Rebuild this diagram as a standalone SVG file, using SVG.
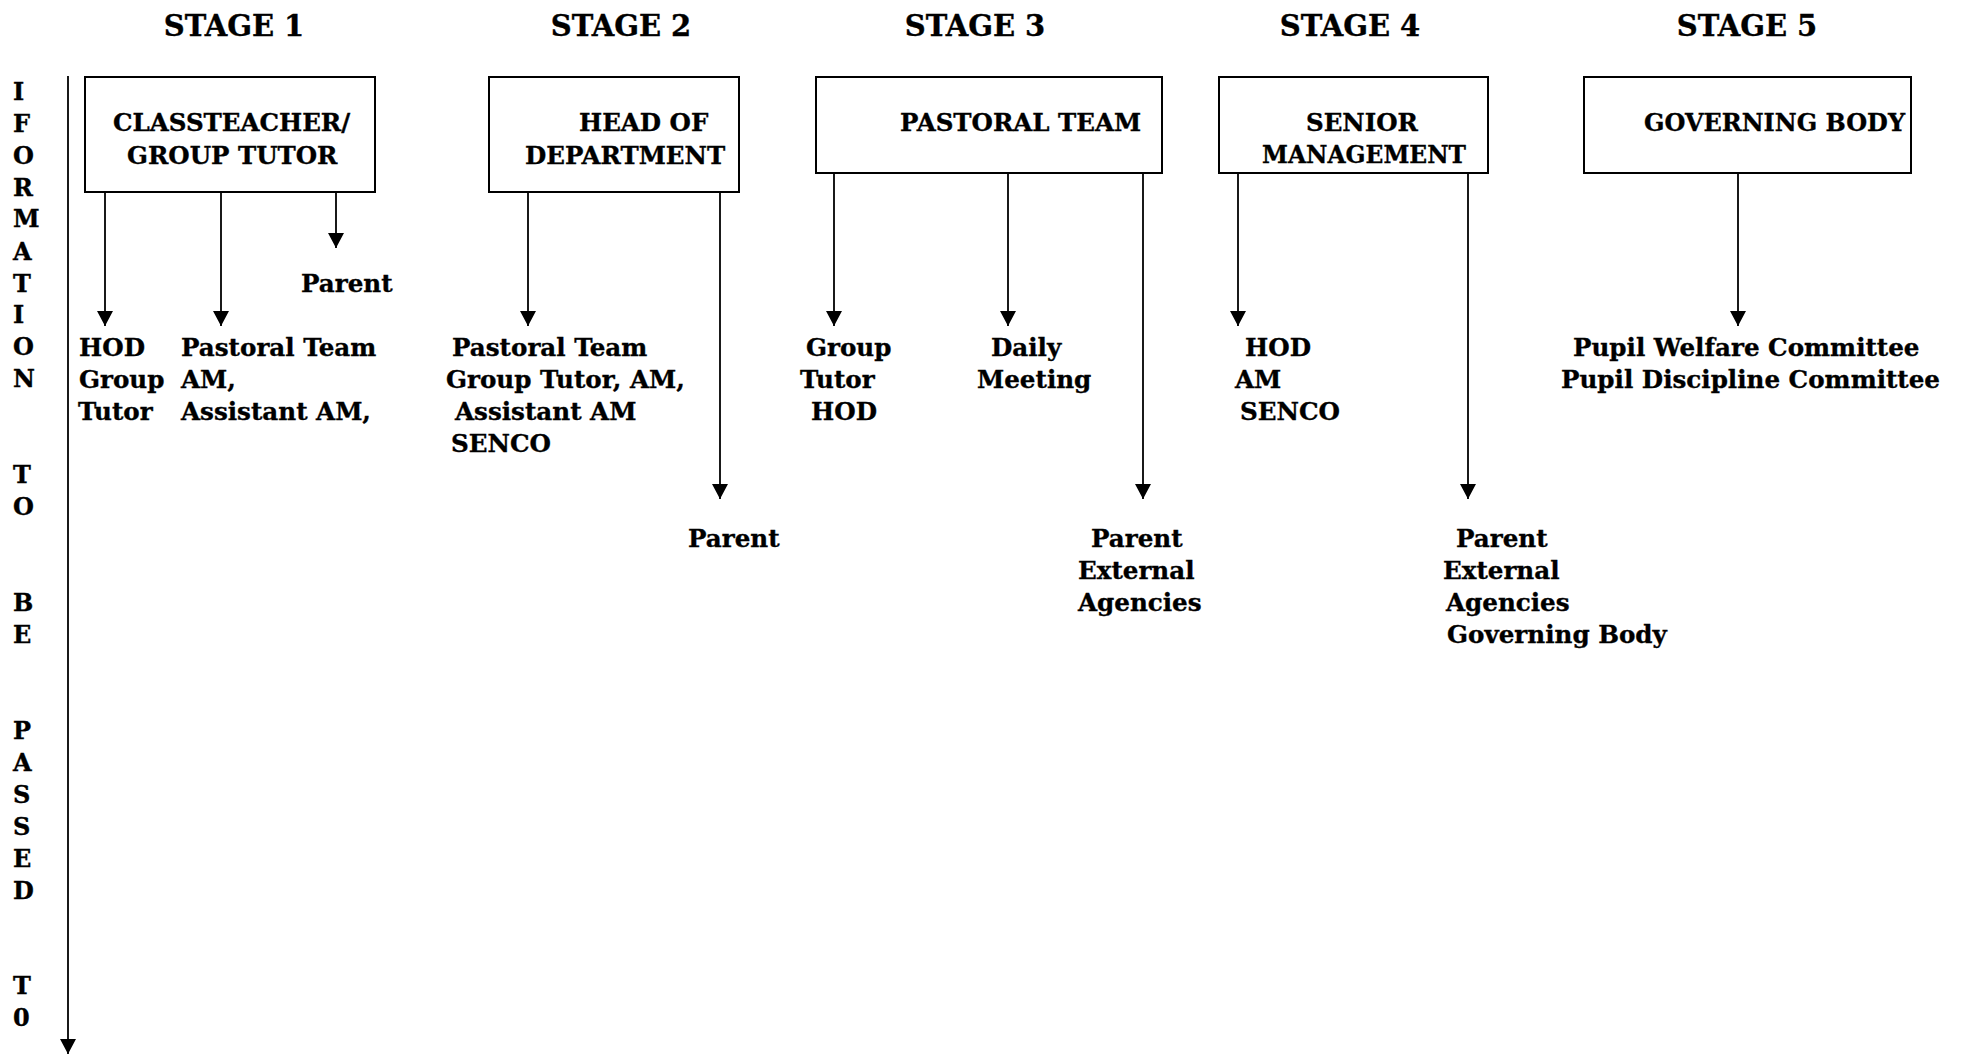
<svg xmlns="http://www.w3.org/2000/svg" width="1965" height="1055" viewBox="0 0 1965 1055">
<style>
text{font-family:"DejaVu Serif","Liberation Serif",serif;font-weight:bold;fill:#000;stroke:#000;stroke-width:0.35}
.title{font-size:29px;text-anchor:middle}
.box{font-size:24.5px}
.lbl{font-size:24.6px}
.side{font-size:24px}
rect{fill:#fff;stroke:#000;stroke-width:2}
line{stroke:#000;stroke-width:1.8}
</style>
<defs>
<marker id="arr" markerUnits="userSpaceOnUse" markerWidth="15" markerHeight="16" refX="15" refY="8" orient="auto" viewBox="0 0 15 16">
<path d="M0,0 L15,8 L0,16 Z" fill="#000"/>
</marker>
</defs>
<g id="titles">
<text class="title" x="234" y="36">STAGE 1</text>
<text class="title" x="621" y="36">STAGE 2</text>
<text class="title" x="975" y="36">STAGE 3</text>
<text class="title" x="1350" y="36">STAGE 4</text>
<text class="title" x="1747" y="36">STAGE 5</text>
</g>
<g id="side-label">
<text class="side" x="13" y="100">I</text>
<text class="side" x="13" y="132">F</text>
<text class="side" x="13" y="164">O</text>
<text class="side" x="13" y="196">R</text>
<text class="side" x="13" y="227">M</text>
<text class="side" x="13" y="260">A</text>
<text class="side" x="13" y="292">T</text>
<text class="side" x="13" y="323">I</text>
<text class="side" x="13" y="355">O</text>
<text class="side" x="13" y="387">N</text>
<text class="side" x="13" y="483">T</text>
<text class="side" x="13" y="515">O</text>
<text class="side" x="13" y="611">B</text>
<text class="side" x="13" y="643">E</text>
<text class="side" x="13" y="739">P</text>
<text class="side" x="13" y="771">A</text>
<text class="side" x="13" y="803">S</text>
<text class="side" x="13" y="835">S</text>
<text class="side" x="13" y="867">E</text>
<text class="side" x="13" y="899">D</text>
<text class="side" x="13" y="994">T</text>
<text class="side" x="13" y="1026">0</text>
</g>
<g id="node-classteacher">
<rect x="85" y="77" width="290" height="115"/>
<text class="box" x="113" y="131">CLASSTEACHER/</text>
<text class="box" x="127" y="164">GROUP TUTOR</text>
</g>
<g id="node-hod">
<rect x="489" y="77" width="250" height="115"/>
<text class="box" x="579" y="131">HEAD OF</text>
<text class="box" x="525" y="164">DEPARTMENT</text>
</g>
<g id="node-pastoral">
<rect x="816" y="77" width="346" height="96"/>
<text class="box" x="900" y="131">PASTORAL TEAM</text>
</g>
<g id="node-senior">
<rect x="1219" y="77" width="269" height="96"/>
<text class="box" x="1306" y="131">SENIOR</text>
<text class="box" x="1262" y="163" textLength="204" lengthAdjust="spacingAndGlyphs">MANAGEMENT</text>
</g>
<g id="node-governing">
<rect x="1584" y="77" width="327" height="96"/>
<text class="box" x="1644" y="131" textLength="261" lengthAdjust="spacingAndGlyphs">GOVERNING BODY</text>
</g>
<g id="connectors">
<line x1="68" y1="76" x2="68" y2="1054" marker-end="url(#arr)"/>
<line x1="105" y1="192" x2="105" y2="326" marker-end="url(#arr)"/>
<line x1="221" y1="192" x2="221" y2="326" marker-end="url(#arr)"/>
<line x1="336" y1="192" x2="336" y2="248" marker-end="url(#arr)"/>
<line x1="528" y1="192" x2="528" y2="326" marker-end="url(#arr)"/>
<line x1="720" y1="192" x2="720" y2="499" marker-end="url(#arr)"/>
<line x1="834" y1="173" x2="834" y2="326" marker-end="url(#arr)"/>
<line x1="1008" y1="173" x2="1008" y2="326" marker-end="url(#arr)"/>
<line x1="1143" y1="173" x2="1143" y2="499" marker-end="url(#arr)"/>
<line x1="1238" y1="173" x2="1238" y2="326" marker-end="url(#arr)"/>
<line x1="1468" y1="173" x2="1468" y2="499" marker-end="url(#arr)"/>
<line x1="1738" y1="173" x2="1738" y2="326" marker-end="url(#arr)"/>
</g>
<g id="labels">
<text class="lbl" x="301" y="292">Parent</text>
<text class="lbl" x="79" y="356">HOD</text>
<text class="lbl" x="79" y="388">Group</text>
<text class="lbl" x="78" y="420">Tutor</text>
<text class="lbl" x="181" y="356">Pastoral Team</text>
<text class="lbl" x="181" y="388">AM,</text>
<text class="lbl" x="181" y="420">Assistant AM,</text>
<text class="lbl" x="452" y="356">Pastoral Team</text>
<text class="lbl" x="446" y="388">Group Tutor, AM,</text>
<text class="lbl" x="455" y="420">Assistant AM</text>
<text class="lbl" x="451" y="452">SENCO</text>
<text class="lbl" x="688" y="547">Parent</text>
<text class="lbl" x="806" y="356">Group</text>
<text class="lbl" x="800" y="388">Tutor</text>
<text class="lbl" x="811" y="420">HOD</text>
<text class="lbl" x="991" y="356">Daily</text>
<text class="lbl" x="977" y="388">Meeting</text>
<text class="lbl" x="1091" y="547">Parent</text>
<text class="lbl" x="1078" y="579">External</text>
<text class="lbl" x="1078" y="611">Agencies</text>
<text class="lbl" x="1245" y="356">HOD</text>
<text class="lbl" x="1235" y="388">AM</text>
<text class="lbl" x="1240" y="420">SENCO</text>
<text class="lbl" x="1456" y="547">Parent</text>
<text class="lbl" x="1443" y="579">External</text>
<text class="lbl" x="1446" y="611">Agencies</text>
<text class="lbl" x="1447" y="643">Governing Body</text>
<text class="lbl" x="1573" y="356">Pupil Welfare Committee</text>
<text class="lbl" x="1561" y="388">Pupil Discipline Committee</text>
</g>
</svg>
